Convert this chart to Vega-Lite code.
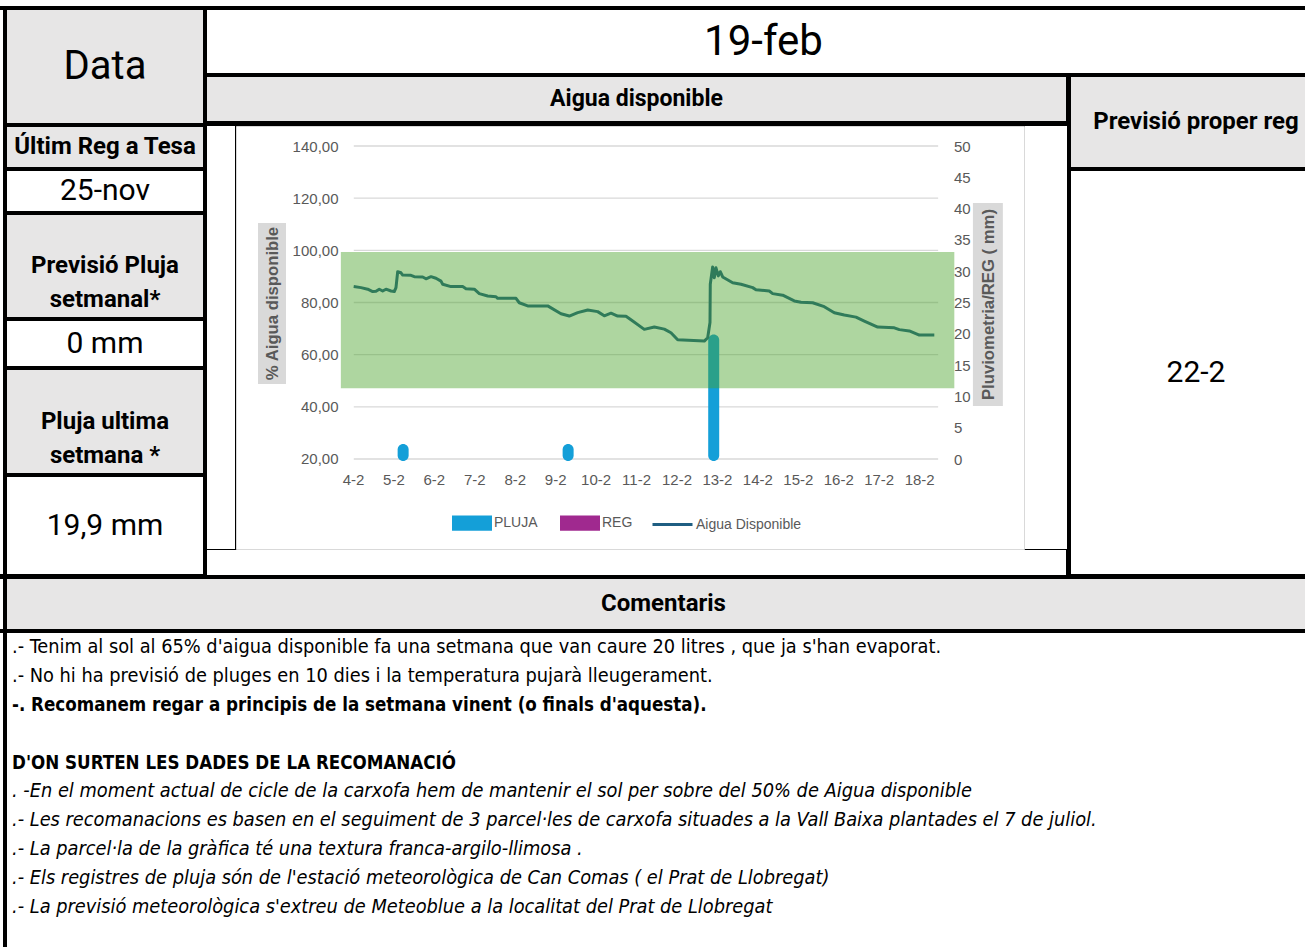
{
  "$schema": "https://vega.github.io/schema/vega-lite/v6.json",
  "background": "black",
  "padding": 0,
  "spacing": 4,
  "config": {"view": {"stroke": null}, "text": {"font": "Roboto", "color": "black"}, "scale": {"continuousPadding": 0}},
  "vconcat": [
    {"width": 1320, "height": 6, "view": {"fill": "white"}, "data": {"values": []}, "mark": "rect", "encoding": {}},
    {
      "spacing": 4,
      "hconcat": [
        {"width": 3, "height": 564, "view": {"fill": "white"}, "data": {"values": []}, "mark": "rect", "encoding": {}},
        {
          "spacing": 4,
          "vconcat": [
            {"width": 196, "height": 113, "view": {"fill": "#E7E6E6"}, "data": {"values": [{"t": "Data"}]}, "mark": {"type": "text", "fontSize": 40}, "encoding": {"text": {"field": "t"}}},
            {"width": 196, "height": 40, "view": {"fill": "#E7E6E6"}, "data": {"values": [{"t": "Últim Reg a Tesa"}]}, "mark": {"type": "text", "fontSize": 24, "fontWeight": "bold"}, "encoding": {"text": {"field": "t"}}},
            {"width": 196, "height": 40, "view": {"fill": "white"}, "data": {"values": [{"t": "25-nov"}]}, "mark": {"type": "text", "fontSize": 30}, "encoding": {"text": {"field": "t"}}},
            {"width": 196, "height": 102, "view": {"fill": "#E7E6E6"}, "data": {"values": [{"t": "Previsió Pluja\nsetmanal*"}]}, "mark": {"type": "text", "fontSize": 24, "fontWeight": "bold", "lineBreak": "\n", "lineHeight": 34}, "encoding": {"text": {"field": "t"}}},
            {"width": 196, "height": 45, "view": {"fill": "white"}, "data": {"values": [{"t": "0 mm"}]}, "mark": {"type": "text", "fontSize": 30}, "encoding": {"text": {"field": "t"}}},
            {"width": 196, "height": 103, "view": {"fill": "#E7E6E6"}, "data": {"values": [{"t": "Pluja ultima\nsetmana *"}]}, "mark": {"type": "text", "fontSize": 24, "fontWeight": "bold", "lineBreak": "\n", "lineHeight": 34}, "encoding": {"text": {"field": "t"}}},
            {"width": 196, "height": 97, "view": {"fill": "white"}, "data": {"values": [{"t": "19,9 mm"}]}, "mark": {"type": "text", "fontSize": 30}, "encoding": {"text": {"field": "t"}}}
          ]
        },
        {
          "spacing": 4,
          "vconcat": [
            {"width": 1113, "height": 63, "view": {"fill": "white"}, "data": {"values": [{"t": "19-feb"}]}, "mark": {"type": "text", "fontSize": 42}, "encoding": {"text": {"field": "t"}}},
            {
              "spacing": 4,
              "hconcat": [
                {
                  "spacing": 4,
                  "vconcat": [
                    {"width": 859, "height": 44, "view": {"fill": "#E7E6E6"}, "data": {"values": [{"t": "Aigua disponible"}]}, "mark": {"type": "text", "fontSize": 23, "fontWeight": "bold"}, "encoding": {"text": {"field": "t"}}},
                    {
                      "spacing": 0,
                      "vconcat": [
                        {
                          "spacing": 0,
                          "hconcat": [
                            {"width": 28, "height": 423, "view": {"fill": "white"}, "data": {"values": []}, "mark": "rect", "encoding": {}},
                            {
                              "width": 788,
                              "height": 423,
                              "view": {"fill": "white", "stroke": "#D9D9D9", "strokeWidth": 1},
                              "resolve": {"scale": {"y": "independent"}},
                              "layer": [
                                {
                                  "data": {"values": [{"g": 20}, {"g": 40}, {"g": 60}, {"g": 80}, {"g": 100}, {"g": 120}, {"g": 140}]},
                                  "mark": {"type": "rule", "color": "#D9D9D9", "strokeWidth": 1.3},
                                  "encoding": {
                                    "y": {"field": "g", "type": "quantitative", "scale": {"domain": [-14.505, 147.668], "nice": false, "zero": false, "padding": 0}, "axis": null},
                                    "x": {"datum": 4.02, "type": "quantitative", "scale": {"domain": [1.107, 20.593], "nice": false, "zero": false, "padding": 0},
                                      "axis": {"orient": "bottom", "offset": -89, "zindex": 1, "values": [4, 5, 6, 7, 8, 9, 10, 11, 12, 13, 14, 15, 16, 17, 18], "labelExpr": "datum.value + '-2'", "domain": false, "ticks": false, "grid": false, "labelPadding": 12, "title": null, "labelFont": "Liberation Sans", "labelFontSize": 15, "labelColor": "#595959", "labelFlush": false, "labelOverlap": false}},
                                    "x2": {"datum": 18.47}
                                  }
                                },
                                {
                                  "data": {"values": [{}]},
                                  "mark": {"type": "rect", "color": "#D9D9D9"},
                                  "encoding": {
                                    "x": {"datum": 1.651, "type": "quantitative", "scale": {"domain": [1.107, 20.593], "nice": false, "zero": false, "padding": 0},
                                      "axis": {"orient": "bottom", "offset": -89, "zindex": 1, "values": [4, 5, 6, 7, 8, 9, 10, 11, 12, 13, 14, 15, 16, 17, 18], "labelExpr": "datum.value + '-2'", "domain": false, "ticks": false, "grid": false, "labelPadding": 12, "title": null, "labelFont": "Liberation Sans", "labelFontSize": 15, "labelColor": "#595959", "labelFlush": false, "labelOverlap": false}},
                                    "x2": {"datum": 2.343},
                                    "y": {"datum": 110.5, "type": "quantitative", "scale": {"domain": [-14.505, 147.668], "nice": false, "zero": false, "padding": 0}, "axis": null},
                                    "y2": {"datum": 48.75}
                                  }
                                },
                                {
                                  "data": {"values": [{}]},
                                  "mark": {"type": "rect", "color": "#D9D9D9"},
                                  "encoding": {
                                    "x": {"datum": 19.33, "type": "quantitative", "scale": {"domain": [1.107, 20.593], "nice": false, "zero": false, "padding": 0},
                                      "axis": {"orient": "bottom", "offset": -89, "zindex": 1, "values": [4, 5, 6, 7, 8, 9, 10, 11, 12, 13, 14, 15, 16, 17, 18], "labelExpr": "datum.value + '-2'", "domain": false, "ticks": false, "grid": false, "labelPadding": 12, "title": null, "labelFont": "Liberation Sans", "labelFontSize": 15, "labelColor": "#595959", "labelFlush": false, "labelOverlap": false}},
                                    "x2": {"datum": 20.07},
                                    "y": {"datum": 118.1, "type": "quantitative", "scale": {"domain": [-14.505, 147.668], "nice": false, "zero": false, "padding": 0}, "axis": null},
                                    "y2": {"datum": 40.3}
                                  }
                                },
                                {
                                  "data": {"values": [{"d": 5.24, "mm": 2.4}, {"d": 9.32, "mm": 2.4}, {"d": 12.92, "mm": 19.9}]},
                                  "mark": {"type": "bar", "size": 11, "cornerRadiusEnd": 5.5},
                                  "encoding": {
                                    "x": {"field": "d", "type": "quantitative", "scale": {"domain": [1.107, 20.593], "nice": false, "zero": false, "padding": 0},
                                      "axis": {"orient": "bottom", "offset": -89, "zindex": 1, "values": [4, 5, 6, 7, 8, 9, 10, 11, 12, 13, 14, 15, 16, 17, 18], "labelExpr": "datum.value + '-2'", "domain": false, "ticks": false, "grid": false, "labelPadding": 12, "title": null, "labelFont": "Liberation Sans", "labelFontSize": 15, "labelColor": "#595959", "labelFlush": false, "labelOverlap": false}},
                                    "y": {"field": "mm", "type": "quantitative", "scale": {"domain": [-14.377, 53.195], "nice": false, "zero": false, "padding": 0},
                                      "axis": {"orient": "right", "offset": -86, "zindex": 1, "values": [0, 5, 10, 15, 20, 25, 30, 35, 40, 45, 50], "domain": false, "ticks": false, "grid": false, "labelPadding": 15.5, "labelFont": "Liberation Sans", "labelFontSize": 15, "labelColor": "#595959", "labelFlush": false, "labelOverlap": false,
                                        "title": "Pluviometria/REG ( mm)", "titleFont": "Liberation Sans", "titleFontSize": 16.7, "titleFontWeight": "bold", "titleColor": "#595959", "titleX": 50, "titleY": 178, "titleAngle": -90, "titleAlign": "center", "titleBaseline": "middle"}},
                                    "y2": {"datum": -0.3},
                                    "color": {"datum": "PLUJA", "scale": {"domain": ["PLUJA", "REG"], "range": ["#149FD8", "#A0298F"]},
                                      "legend": {"orient": "none", "legendX": 452, "legendY": 503, "direction": "horizontal", "title": null, "symbolType": "M-1,-0.38H1V0.38H-1Z", "symbolSize": 1600, "symbolStrokeWidth": 0, "labelFont": "Liberation Sans", "labelFontSize": 14, "labelColor": "#595959", "labelOffset": 2, "columnPadding": 22, "padding": 0}}
                                  }
                                },
                                {
                                  "data": {"values": [
                                    {"d": 4.017, "v": 86.1}, {"d": 4.198, "v": 85.7}, {"d": 4.364, "v": 85.1}, {"d": 4.487, "v": 84.2}, {"d": 4.569, "v": 84.3}, {"d": 4.65, "v": 85.1}, {"d": 4.734, "v": 84.4}, {"d": 4.816, "v": 85.1}, {"d": 4.94, "v": 84.4}, {"d": 5.021, "v": 84.2}, {"d": 5.063, "v": 85.7}, {"d": 5.105, "v": 91.8}, {"d": 5.187, "v": 91.4}, {"d": 5.229, "v": 90.5}, {"d": 5.434, "v": 90.4}, {"d": 5.516, "v": 89.9}, {"d": 5.724, "v": 89.8}, {"d": 5.805, "v": 89.1}, {"d": 5.929, "v": 89.9}, {"d": 6.052, "v": 89.3}, {"d": 6.176, "v": 88.2}, {"d": 6.218, "v": 87.0}, {"d": 6.423, "v": 86.1}, {"d": 6.713, "v": 86.1}, {"d": 6.794, "v": 85.3}, {"d": 7.0, "v": 85.1}, {"d": 7.123, "v": 83.4}, {"d": 7.331, "v": 82.5}, {"d": 7.536, "v": 82.2}, {"d": 7.578, "v": 81.6}, {"d": 8.031, "v": 81.6}, {"d": 8.112, "v": 79.9}, {"d": 8.32, "v": 78.7}, {"d": 8.815, "v": 78.7}, {"d": 9.143, "v": 75.7}, {"d": 9.349, "v": 74.8}, {"d": 9.556, "v": 76.1}, {"d": 9.804, "v": 77.1}, {"d": 10.051, "v": 76.5}, {"d": 10.214, "v": 74.9}, {"d": 10.38, "v": 75.9}, {"d": 10.545, "v": 74.8}, {"d": 10.751, "v": 74.7}, {"d": 10.917, "v": 72.9}, {"d": 11.203, "v": 69.7}, {"d": 11.451, "v": 70.6}, {"d": 11.698, "v": 69.8}, {"d": 11.863, "v": 68.4}, {"d": 12.029, "v": 65.7}, {"d": 12.687, "v": 65.2}, {"d": 12.771, "v": 66.5}, {"d": 12.828, "v": 72.3}, {"d": 12.835, "v": 87.0}, {"d": 12.894, "v": 93.6}, {"d": 12.934, "v": 89.5}, {"d": 12.976, "v": 93.3}, {"d": 13.033, "v": 90.2}, {"d": 13.082, "v": 91.8}, {"d": 13.142, "v": 89.8}, {"d": 13.389, "v": 87.6}, {"d": 13.595, "v": 87.0}, {"d": 13.884, "v": 85.7}, {"d": 13.965, "v": 84.9}, {"d": 14.294, "v": 84.4}, {"d": 14.378, "v": 83.4}, {"d": 14.626, "v": 82.8}, {"d": 14.913, "v": 80.6}, {"d": 15.078, "v": 80.1}, {"d": 15.367, "v": 79.9}, {"d": 15.654, "v": 78.4}, {"d": 15.902, "v": 76.1}, {"d": 16.149, "v": 75.2}, {"d": 16.438, "v": 74.4}, {"d": 16.644, "v": 72.9}, {"d": 16.975, "v": 70.6}, {"d": 17.386, "v": 70.3}, {"d": 17.51, "v": 69.6}, {"d": 17.757, "v": 69.1}, {"d": 18.004, "v": 67.5}, {"d": 18.375, "v": 67.5}
                                  ]},
                                  "mark": {"type": "line", "strokeWidth": 3, "strokeJoin": "round"},
                                  "encoding": {
                                    "x": {"field": "d", "type": "quantitative", "scale": {"domain": [1.107, 20.593], "nice": false, "zero": false, "padding": 0},
                                      "axis": {"orient": "bottom", "offset": -89, "zindex": 1, "values": [4, 5, 6, 7, 8, 9, 10, 11, 12, 13, 14, 15, 16, 17, 18], "labelExpr": "datum.value + '-2'", "domain": false, "ticks": false, "grid": false, "labelPadding": 12, "title": null, "labelFont": "Liberation Sans", "labelFontSize": 15, "labelColor": "#595959", "labelFlush": false, "labelOverlap": false}},
                                    "y": {"field": "v", "type": "quantitative", "scale": {"domain": [-14.505, 147.668], "nice": false, "zero": false, "padding": 0},
                                      "axis": {"orient": "left", "offset": -118, "zindex": 1, "values": [20, 40, 60, 80, 100, 120, 140], "labelExpr": "replace(format(datum.value, '.2f'), '.', ',')", "domain": false, "ticks": false, "grid": false, "labelPadding": 16, "labelFont": "Liberation Sans", "labelFontSize": 15, "labelColor": "#595959", "labelFlush": false, "labelOverlap": false,
                                        "title": "% Aigua disponible", "titleFont": "Liberation Sans", "titleFontSize": 16.7, "titleFontWeight": "bold", "titleColor": "#595959", "titleX": -82, "titleY": 177, "titleAngle": -90, "titleAlign": "center", "titleBaseline": "middle"}},
                                    "stroke": {"datum": "Aigua Disponible", "scale": {"domain": ["Aigua Disponible"], "range": ["#1F5E82"]},
                                      "legend": {"orient": "none", "legendX": 651, "legendY": 503, "direction": "horizontal", "title": null, "symbolType": "stroke", "symbolSize": 1600, "symbolStrokeWidth": 3, "labelFont": "Liberation Sans", "labelFontSize": 14, "labelColor": "#595959", "labelOffset": 2, "padding": 0}}
                                  }
                                },
                                {
                                  "data": {"values": [{"lo": 47.1, "hi": 99.4}]},
                                  "mark": {"type": "rect", "color": "#47A227", "opacity": 0.44},
                                  "encoding": {
                                    "x": {"datum": 3.7, "type": "quantitative", "scale": {"domain": [1.107, 20.593], "nice": false, "zero": false, "padding": 0},
                                      "axis": {"orient": "bottom", "offset": -89, "zindex": 1, "values": [4, 5, 6, 7, 8, 9, 10, 11, 12, 13, 14, 15, 16, 17, 18], "labelExpr": "datum.value + '-2'", "domain": false, "ticks": false, "grid": false, "labelPadding": 12, "title": null, "labelFont": "Liberation Sans", "labelFontSize": 15, "labelColor": "#595959", "labelFlush": false, "labelOverlap": false}},
                                    "x2": {"datum": 18.87},
                                    "y": {"field": "lo", "type": "quantitative", "scale": {"domain": [-14.505, 147.668], "nice": false, "zero": false, "padding": 0}, "axis": null},
                                    "y2": {"field": "hi"}
                                  }
                                }
                              ]
                            },
                            {"width": 42, "height": 423, "view": {"fill": "white"}, "data": {"values": []}, "mark": "rect", "encoding": {}}
                          ]
                        },
                        {"width": 859, "height": 25, "view": {"fill": "white"}, "data": {"values": []}, "mark": "rect", "encoding": {}}
                      ]
                    }
                  ]
                },
                {
                  "spacing": 4,
                  "vconcat": [
                    {"width": 250, "height": 90, "view": {"fill": "#E7E6E6"}, "data": {"values": [{"t": "Previsió proper reg"}]}, "mark": {"type": "text", "fontSize": 24, "fontWeight": "bold"}, "encoding": {"text": {"field": "t"}}},
                    {"width": 250, "height": 403, "view": {"fill": "white"}, "data": {"values": [{"t": "22-2"}]}, "mark": {"type": "text", "fontSize": 30}, "encoding": {"text": {"field": "t"}}}
                  ]
                }
              ]
            }
          ]
        }
      ]
    },
    {
      "spacing": 4,
      "hconcat": [
        {"width": 3, "height": 50, "view": {"fill": "white"}, "data": {"values": []}, "mark": "rect", "encoding": {}},
        {"width": 1313, "height": 50, "view": {"fill": "#E7E6E6"}, "data": {"values": [{"t": "Comentaris"}]}, "mark": {"type": "text", "fontSize": 24, "fontWeight": "bold"}, "encoding": {"text": {"field": "t"}}}
      ]
    },
    {
      "spacing": 4,
      "hconcat": [
        {"width": 3, "height": 328, "view": {"fill": "white"}, "data": {"values": []}, "mark": "rect", "encoding": {}},
        {
          "width": 1313,
          "height": 328,
          "view": {"fill": "white"},
          "layer": [
            {
              "data": {"values": [
                {"i": 0, "t": ".- Tenim al sol al 65% d'aigua disponible fa una setmana que van caure 20 litres , que ja s'han evaporat."},
                {"i": 1, "t": ".- No hi ha previsió de pluges en 10 dies i la temperatura pujarà lleugerament."}
              ]},
              "mark": {"type": "text", "font": "DejaVu Sans Condensed", "fontSize": 19.8, "align": "left", "baseline": "middle"},
              "encoding": {
                "x": {"value": 5},
                "y": {"field": "i", "type": "quantitative", "scale": {"domain": [-0.484, 10.865], "reverse": true, "nice": false, "zero": false}, "axis": null},
                "text": {"field": "t"}
              }
            },
            {
              "data": {"values": [
                {"i": 2, "t": "-. Recomanem regar a principis de la setmana vinent (o finals d'aquesta)."},
                {"i": 4, "t": "D'ON SURTEN LES DADES DE LA RECOMANACIÓ"}
              ]},
              "mark": {"type": "text", "font": "DejaVu Sans Condensed", "fontSize": 18.6, "fontWeight": "bold", "align": "left", "baseline": "middle"},
              "encoding": {
                "x": {"value": 5},
                "y": {"field": "i", "type": "quantitative", "scale": {"domain": [-0.484, 10.865], "reverse": true, "nice": false, "zero": false}, "axis": null},
                "text": {"field": "t"}
              }
            },
            {
              "data": {"values": [
                {"i": 5, "t": ". -En el moment actual de cicle de la carxofa hem de mantenir el sol per sobre del 50% de Aigua disponible"},
                {"i": 6, "t": ".- Les recomanacions es basen en el seguiment de 3 parcel·les de carxofa situades a la Vall Baixa plantades el 7 de juliol."},
                {"i": 7, "t": ".- La parcel·la de la gràfica té una textura  franca-argilo-llimosa  ."},
                {"i": 8, "t": ".- Els registres de pluja són de l'estació meteorològica de Can Comas ( el Prat de Llobregat)"},
                {"i": 9, "t": ".- La previsió meteorològica s'extreu de Meteoblue a la localitat del Prat de Llobregat"}
              ]},
              "mark": {"type": "text", "font": "DejaVu Sans Condensed", "fontSize": 19.8, "fontStyle": "italic", "align": "left", "baseline": "middle"},
              "encoding": {
                "x": {"value": 5},
                "y": {"field": "i", "type": "quantitative", "scale": {"domain": [-0.484, 10.865], "reverse": true, "nice": false, "zero": false}, "axis": null},
                "text": {"field": "t"}
              }
            }
          ]
        }
      ]
    }
  ]
}
